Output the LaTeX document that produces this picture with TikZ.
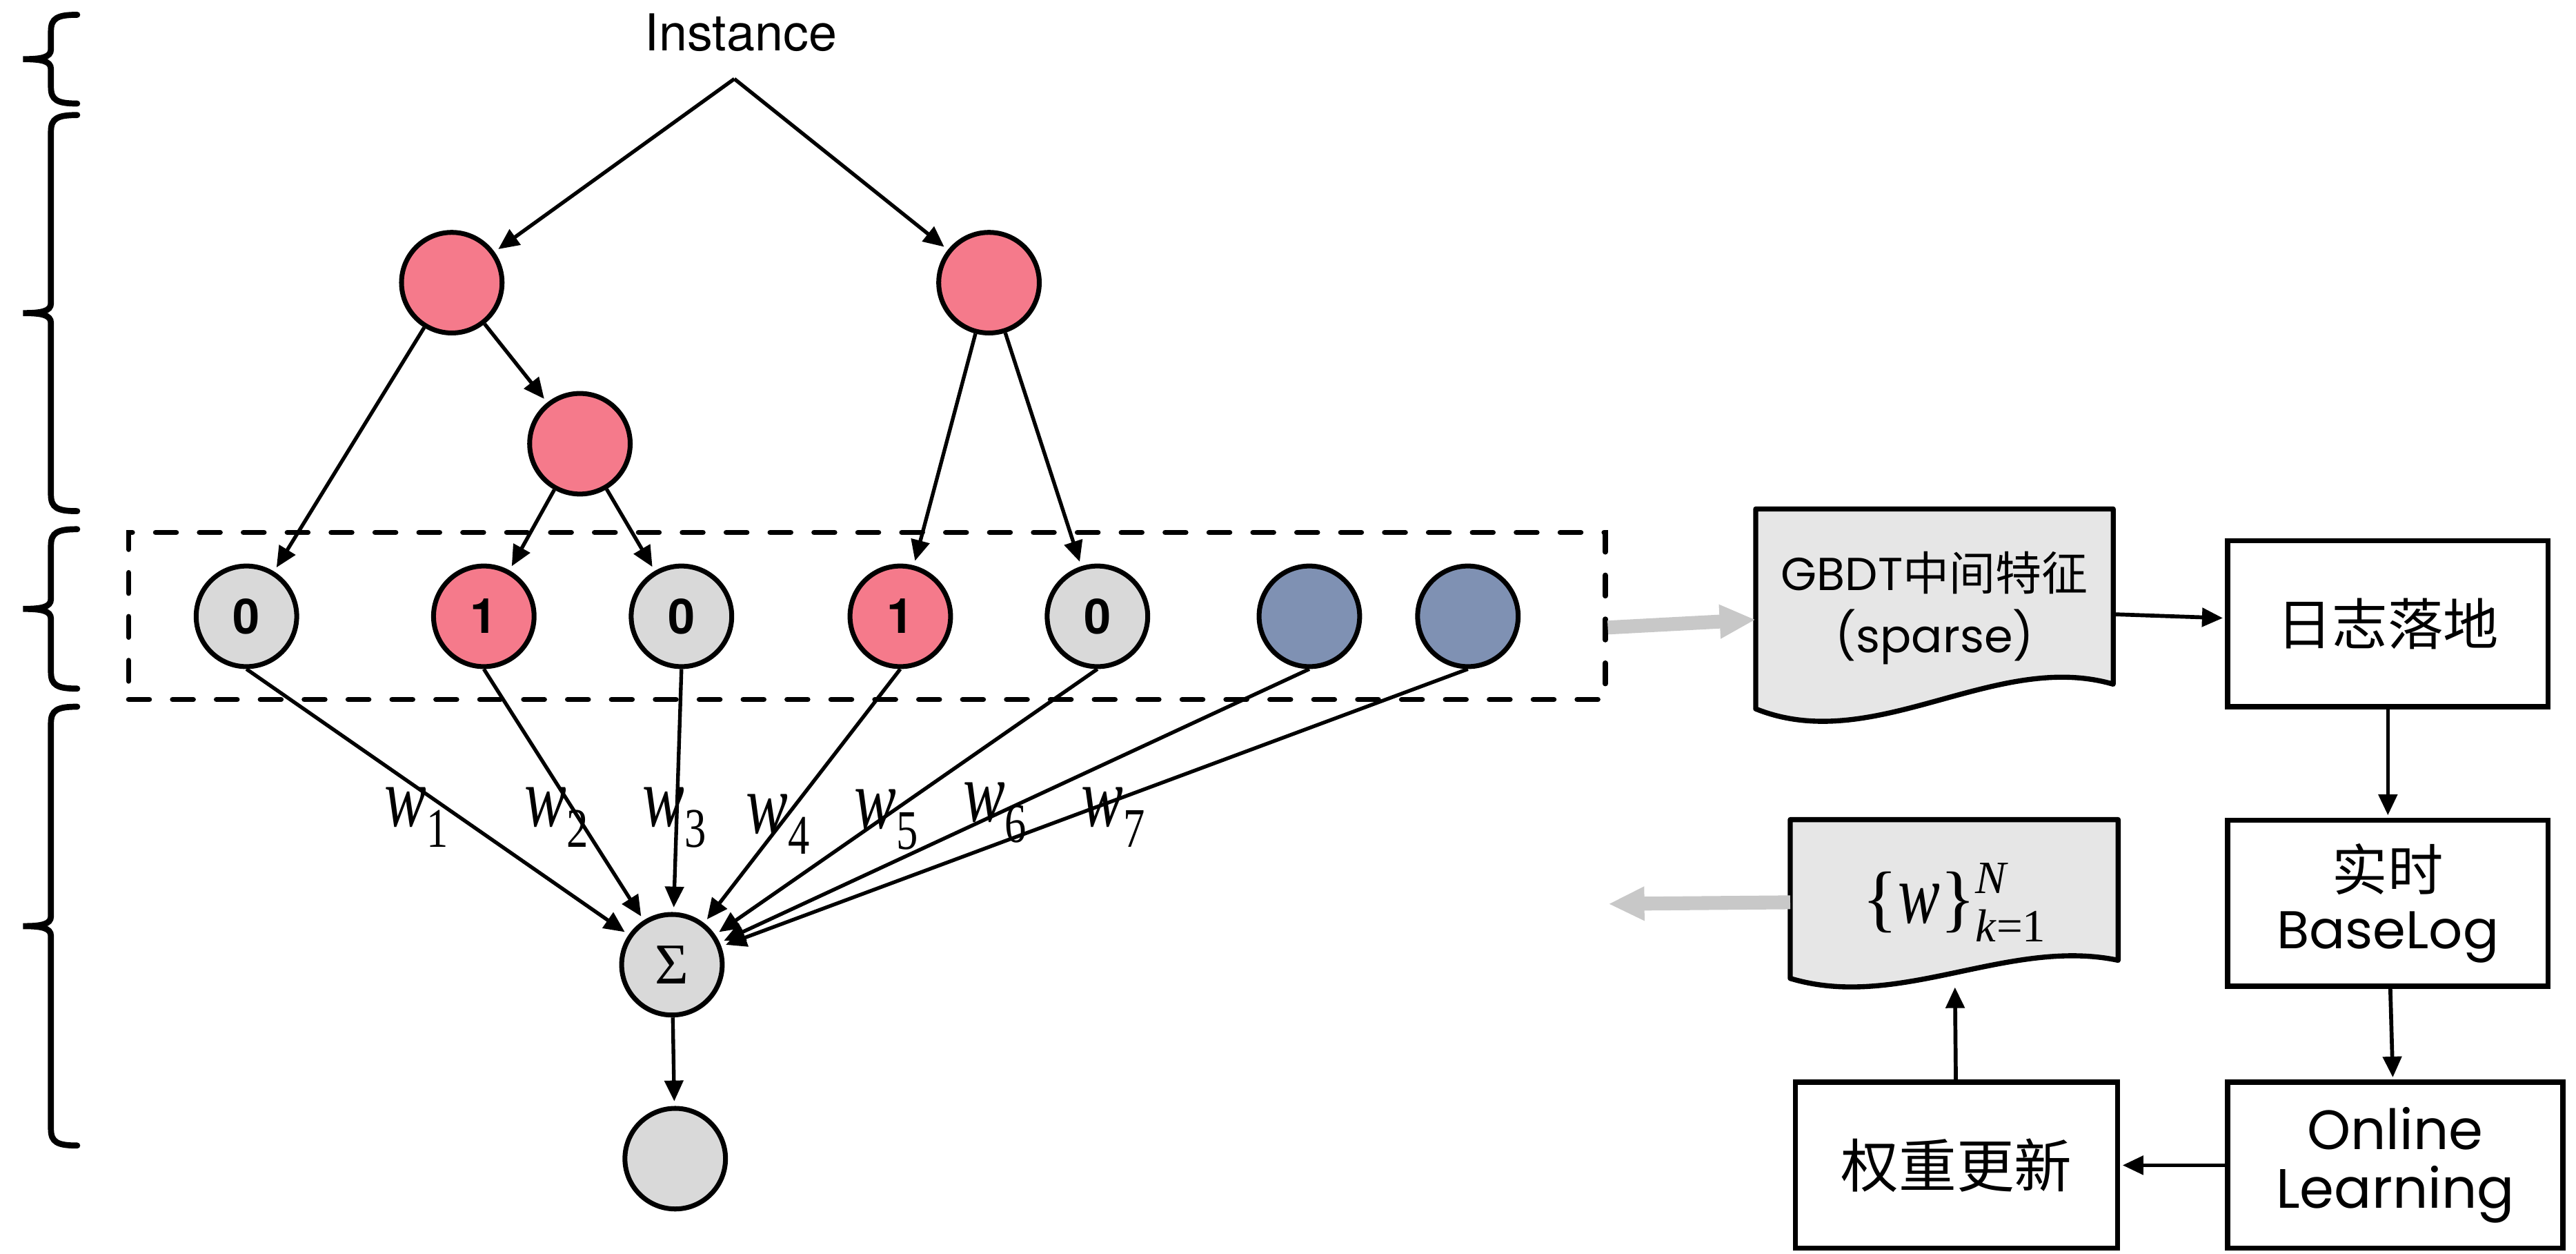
\documentclass[tikz,border=0pt]{standalone}
\usepackage{fontspec}
\newfontfamily\helv{TeX Gyre Heros}
\newfontfamily\gothic{Poppins}
\newfontfamily\cjk{Noto Sans CJK SC}
\newfontfamily\tmsfont{Liberation Serif}
\usetikzlibrary{arrows.meta,calc,backgrounds}
\definecolor{leafpink}{RGB}{245,122,139}
\definecolor{leafgrey}{RGB}{217,217,217}
\definecolor{leafblue}{RGB}{127,145,179}
\definecolor{docgrey}{RGB}{230,230,230}
\definecolor{flowgrey}{RGB}{200,200,200}
\tikzset{
featnode/.style={circle, draw, line width=2.1pt, minimum size=1.53cm, inner sep=0pt,
  font=\helv\bfseries\fontsize{21}{24}\selectfont},
pinknode/.style={featnode, fill=leafpink},
greynode/.style={featnode, fill=leafgrey},
bluenode/.style={featnode, fill=leafblue},
wire/.style={line width=1.6pt, -{Triangle[length=9pt,width=8pt]}, shorten >=2pt},
sidebrace/.style={line width=2.6pt, line cap=round},
featbox/.style={draw, line width=2.2pt, dash pattern=on 9pt off 10pt, line cap=round,
  minimum width=22.465cm, minimum height=2.54cm, inner sep=0pt},
flowbox/.style={draw, line width=2.2pt, align=center, inner sep=0pt, minimum height=2.525cm},
docbox/.style={align=center, inner sep=0pt},
docline/.style={draw, line width=2.2pt, fill=docgrey, line join=round},
flowarrow/.style={line width=1.7pt, -{Triangle[length=9pt,width=8pt]}, shorten >=1pt},
bigflow/.style={flowgrey, line width=6pt, -{Triangle[length=15.6pt,width=13.7pt]}},
}
\newcommand{\wlab}[1]{{\tmsfont\itshape\fontsize{32}{32}\selectfont\scalebox{0.85}[1.15]{w}}\raisebox{-9pt}{\tmsfont\fontsize{22}{22}\selectfont\scalebox{0.85}[1.1]{#1}}}

\begin{document}
\begin{tikzpicture}[x=0.025cm, y=-0.025cm]
\useasboundingbox (0,0) rectangle (1568,763);

% the braces on the left
\foreach \t/\b in {9/63, 70/311, 322/419, 430/697}
{
  \pgfmathsetmacro{\m}{(\t+\b)/2}
  \draw[sidebrace] (47,\t) .. controls (35,\t) and (31,\t+2) .. (31,\t+10)
    -- (31,\m-6) .. controls (31,\m-1) and (25,\m) .. (14,\m)
    .. controls (25,\m) and (31,\m+1) .. (31,\m+6)
    -- (31,\b-10) .. controls (31,\b-2) and (35,\b) .. (47,\b);
}

% the trees
\node[font=\helv\fontsize{22}{25}\selectfont] (inst) at (451,20) {Instance};
\coordinate (apex) at (447,48);
\node[pinknode] (l1) at (275,172) {};
\node[pinknode] (r1) at (602,172) {};
\node[pinknode] (l2) at (353,270) {};

% the leaves
\node[featbox] (feats) at (527.7,374.8) {};
\node[greynode] (leaf1) at (150,375) {0};
\node[pinknode] (leaf2) at (294.5,375) {1};
\node[greynode] (leaf3) at (414.8,375) {0};
\node[pinknode] (leaf4) at (548,375) {1};
\node[greynode] (leaf5) at (668,375) {0};
\node[bluenode] (leaf6) at (797,375) {};
\node[bluenode] (leaf7) at (893.5,375) {};

\node[greynode, font=\tmsfont\fontsize{25}{25}\selectfont] (sum) at (409,587) {Σ};
\node[greynode] (out) at (411,705) {};

\draw[wire] (apex) -- (l1);
\draw[wire] (apex) -- (r1);
\draw[wire] (l1) -- (leaf1);
\draw[wire] (l1) -- (l2);
\draw[wire] (l2) -- (leaf2);
\draw[wire] (l2) -- (leaf3);
\draw[wire] (r1) -- (leaf4);
\draw[wire] (r1) -- (leaf5);
\foreach \i in {1,...,7}
  \draw[wire] (leaf\i.south) -- (sum);
\draw[wire] (sum) -- (out);

% the weights
\foreach \i/\x/\y in {1/234/503, 2/319/503, 3/391/503, 4/454/507, 5/520/504, 6/586/500, 7/658/503}
  \node[anchor=base west, inner sep=0pt] (w\i) at (\x,\y) {\wlab{\i}};

% the online part
\node[docbox, minimum width=5.425cm, minimum height=3cm,
  font=\fontsize{20}{27}\selectfont] (gbdt) at (1177.5,370)
  {{\gothic GBDT}{\cjk 中间特征}\\{\gothic (sparse)}};
\node[flowbox, minimum width=4.875cm, font=\cjk\fontsize{24}{28}\selectfont] (rizhi) at (1453.5,379.5) {日志落地};
\node[flowbox, minimum width=4.875cm, font=\fontsize{22}{25}\selectfont] (shishi) at (1453.5,549.5)
  {{\cjk\fontsize{24}{25}\selectfont 实时}\\{\gothic\fontsize{23}{25}\selectfont BaseLog}};
\node[flowbox, minimum width=5.1cm, font=\gothic\fontsize{24}{25.5}\selectfont] (online) at (1458,709) {Online\\Learning};
\node[flowbox, minimum width=4.9cm, font=\cjk\fontsize{25}{28}\selectfont] (quanzhong) at (1191,709) {权重更新};
\node[docbox, minimum width=4.975cm, minimum height=2.5cm] (wdoc) at (1189.5,549)
  {{\tmsfont\fontsize{32}{32}\selectfont\{\textit{\scalebox{0.85}[1.15]{w}}\}}\raisebox{13pt}{\rlap{\tmsfont\fontsize{20}{20}\selectfont\textit{N}}}\raisebox{-8pt}{\tmsfont\fontsize{20}{20}\selectfont\textit{k}=1}};
\coordinate (wout) at (979,550);

\begin{scope}[on background layer]
\draw[docline] (gbdt.north west) -- (gbdt.north east) -- ($(gbdt.south east)+(0,-14)$)
  .. controls +(-72,-21) and +(72,29) .. ($(gbdt.south west)+(0,1)$) -- cycle;
\draw[docline] (wdoc.north west) -- (wdoc.north east) -- ($(wdoc.south east)+(0,-15)$)
  .. controls +(-67,-14) and +(66,20) .. ($(wdoc.south west)+(0,-4)$) -- cycle;
\end{scope}

\draw[bigflow] ([yshift=-5pt]feats.east) -- ([yshift=-5pt]gbdt.west);
\draw[flowarrow] (gbdt) -- (rizhi);
\draw[flowarrow] (rizhi) -- (shishi);
\draw[flowarrow] (shishi) -- (online);
\draw[flowarrow] (online) -- (quanzhong);
\draw[flowarrow] (quanzhong) -- (wdoc);
\draw[bigflow] (wdoc.west) -- (wout);
\end{tikzpicture}
\end{document}
